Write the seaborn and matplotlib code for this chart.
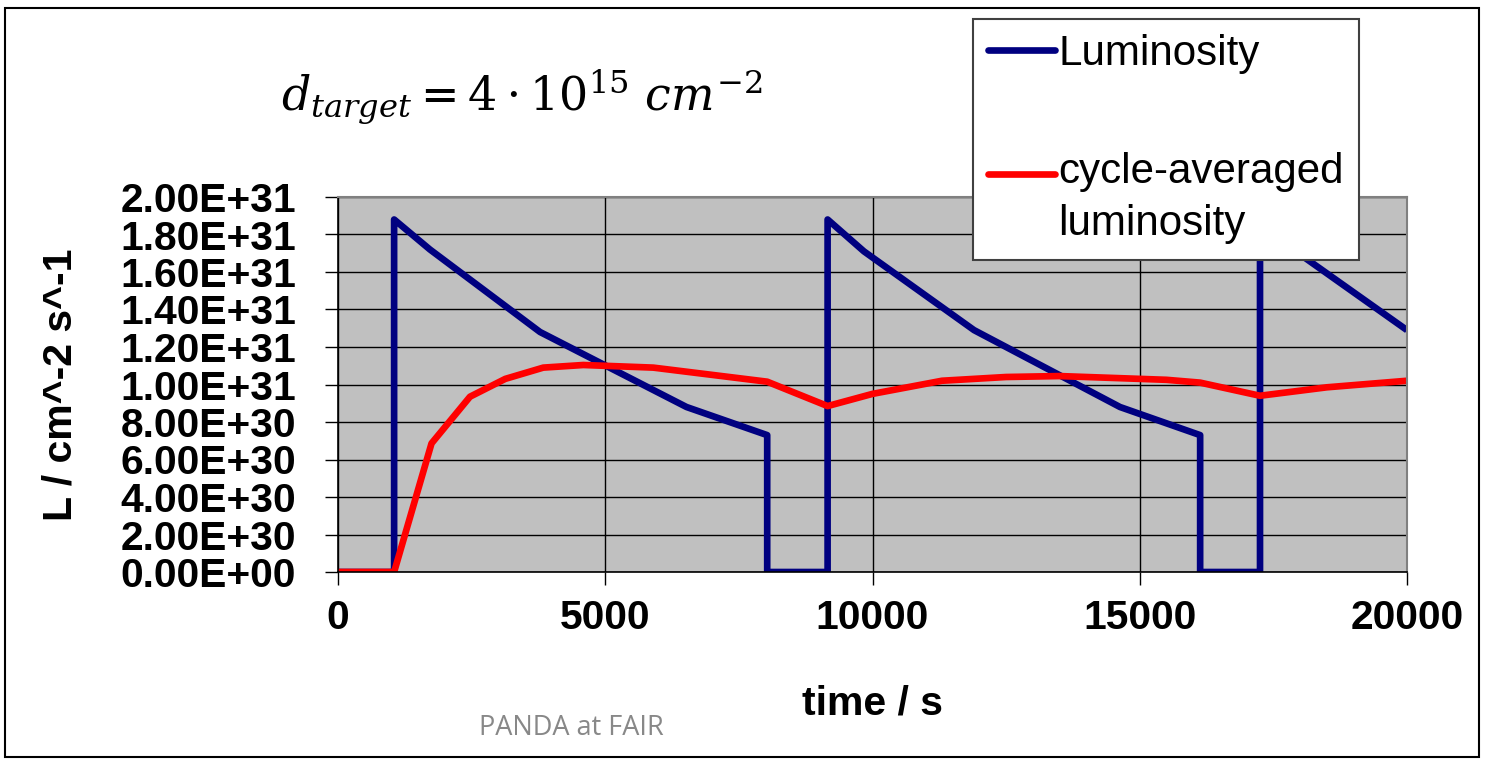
import numpy as np
import pandas as pd
import seaborn as sns
import matplotlib
matplotlib.use("Agg")
import matplotlib.pyplot as plt
from matplotlib.patches import Rectangle
from matplotlib.legend_handler import HandlerLine2D
from matplotlib.ticker import FixedLocator, FuncFormatter

# ---- data ----
lum_time = [0, 1050, 1050, 1720, 3780, 6520, 8030, 8030, 9160, 9160, 9840,
            11900, 14630, 16130, 16130, 17250, 17250, 17920, 20000]
lum_value = [0, 0, 1.88e31, 1.72e31, 1.28e31, 8.8e30, 7.3e30, 0, 0, 1.88e31, 1.71e31,
             1.29e31, 8.8e30, 7.3e30, 0, 0, 1.88e31, 1.71e31, 1.29e31]
avg_time = [0, 1050, 1750, 2470, 3130, 3840, 4590, 5900, 8030, 9160, 10000,
            11300, 12500, 13500, 14500, 15500, 16130, 17250, 18500, 20000]
avg_value = [0, 0, 6.86e30, 9.35e30, 1.03e31, 1.09e31, 1.104e31, 1.09e31, 1.015e31,
             8.85e30, 9.5e30, 1.02e31, 1.04e31, 1.045e31, 1.035e31, 1.025e31,
             1.01e31, 9.4e30, 9.85e30, 1.02e31]
series_names = ["Luminosity", "cycle-averaged\nluminosity"]
x_ticks = [0, 5000, 10000, 15000, 20000]
y_ticks = [0, 2e30, 4e30, 6e30, 8e30, 1e31, 1.2e31, 1.4e31, 1.6e31, 1.8e31, 2e31]

lum_df = pd.DataFrame({"time": lum_time, "L": lum_value})
avg_df = pd.DataFrame({"time": avg_time, "L": avg_value})

sns.set_theme(style="white")
plt.rcParams["font.family"] = ["Liberation Sans", "DejaVu Sans"]
plt.rcParams["mathtext.fontset"] = "dejavuserif"
for k in ["text.color", "axes.labelcolor", "xtick.color", "ytick.color"]:
    plt.rcParams[k] = "black"

W, H = 1487, 759
fig = plt.figure(figsize=(W / 100, H / 100), dpi=100)
fig.patch.set_facecolor("white")

L, R, T, B = 338, 1407, 197, 572
ax = fig.add_axes([L / W, 1 - B / H, (R - L) / W, (B - T) / H])
ax.set_facecolor("#C0C0C0")

sns.lineplot(data=lum_df, x="time", y="L", ax=ax, sort=False, estimator=None,
             color="#000080", linewidth=4.8, label=series_names[0],
             solid_joinstyle="round", solid_capstyle="butt")
sns.lineplot(data=avg_df, x="time", y="L", ax=ax, sort=False, estimator=None,
             color="#FF0000", linewidth=4.8, label=series_names[1],
             solid_joinstyle="round", solid_capstyle="butt")

ax.set_xlim(0, 20000)
ax.set_ylim(0, 2e31)
ax.xaxis.set_major_locator(FixedLocator(x_ticks))
ax.yaxis.set_major_locator(FixedLocator(y_ticks))
ax.xaxis.set_major_formatter(FuncFormatter(lambda v, p: f"{v:.0f}"))
ax.yaxis.set_major_formatter(FuncFormatter(lambda v, p: f"{v:.2E}"))
ax.grid(True, color="black", linewidth=1.0)
ax.set_axisbelow(True)

for s in ["top", "right"]:
    ax.spines[s].set_color("#808080")
    ax.spines[s].set_linewidth(1.5)
for s in ["left", "bottom"]:
    ax.spines[s].set_color("black")
    ax.spines[s].set_linewidth(1.2)

ax.tick_params(axis="both", which="major", direction="out", length=9.4, width=1.0,
               color="black", labelcolor="black", labelsize=29.3, left=True, bottom=True)
ax.tick_params(axis="y", pad=21)
ax.tick_params(axis="x", pad=10)
for lab in ax.get_xticklabels() + ax.get_yticklabels():
    lab.set_fontweight("bold")

ax.set_xlabel("time / s", fontsize=29.5, fontweight="bold", labelpad=34, color="black")
ax.set_ylabel("L / cm^-2 s^-1", fontsize=29.5, fontweight="bold", labelpad=29, color="black")


class ShiftedHandler(HandlerLine2D):
    def __init__(self, shift=0.0, **kw):
        super().__init__(**kw)
        self.shift = shift

    def create_artists(self, legend, orig_handle, xdescent, ydescent, width,
                       height, fontsize, trans):
        arts = super().create_artists(legend, orig_handle, xdescent, ydescent,
                                      width, height, fontsize, trans)
        for a in arts:
            yd = np.asarray(a.get_ydata(), dtype=float)
            a.set_ydata(yd + self.shift * fontsize)
            a.set_solid_capstyle("round")
        return arts


class RoundHandler(HandlerLine2D):
    def create_artists(self, *args, **kw):
        arts = super().create_artists(*args, **kw)
        for a in arts:
            a.set_solid_capstyle("round")
        return arts


handles = [h for h in ax.get_lines() if h.get_label() in series_names]
leg = ax.legend(handles=handles, labels=series_names,
                loc="upper left", bbox_to_anchor=(973 / W, 1 - 19 / H),
                bbox_transform=fig.transFigure, borderaxespad=0,
                fontsize=30.3, frameon=True, fancybox=False, framealpha=1,
                edgecolor="#404040", handlelength=1.6, handletextpad=0.07,
                labelspacing=1.85, borderpad=0.36,
                handler_map={handles[0]: RoundHandler(),
                             handles[1]: ShiftedHandler(shift=0.6)})
leg.get_frame().set_linewidth(1.5)
for t in leg.get_texts():
    t.set_linespacing(1.4)
    t.set_color("black")

fig.text(281 / W, 1 - 110 / H, r"$d_{target} = 4 \cdot 10^{15}\ cm^{-2}$",
         fontsize=33, ha="left", va="baseline", color="black")
fig.text(571 / W, 1 - 735 / H, "PANDA at FAIR", fontsize=19.5, color="#888888",
         ha="center", va="baseline", family=["Open Sans", "DejaVu Sans"])

fig.patches.append(Rectangle((5 / W, 1 - 757 / H), 1474 / W, 749 / H,
                             transform=fig.transFigure, fill=False,
                             edgecolor="black", linewidth=1.5))

fig.savefig("out.png", dpi=100, facecolor="white")
